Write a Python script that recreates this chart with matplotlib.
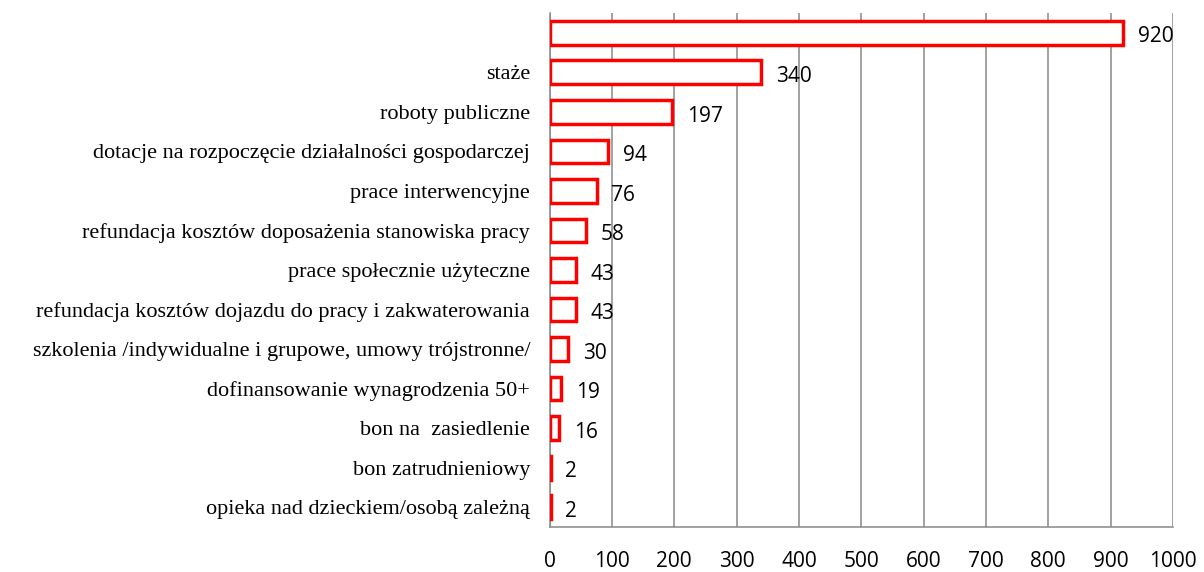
import matplotlib.pyplot as plt
import numpy as np

# kategorie (od góry)
categories = ['', 'staże', 'roboty publiczne',
              'dotacje na rozpoczęcie działalności gospodarczej',
              'prace interwencyjne',
              'refundacja kosztów doposażenia stanowiska pracy',
              'prace społecznie użyteczne',
              'refundacja kosztów dojazdu do pracy i zakwaterowania',
              'szkolenia /indywidualne i grupowe, umowy trójstronne/',
              'dofinansowanie wynagrodzenia 50+',
              'bon na  zasiedlenie',
              'bon zatrudnieniowy',
              'opieka nad dzieckiem/osobą zależną']
values = [920, 340, 197, 94, 76, 58, 43, 43, 30, 19, 16, 2, 2]
xticks = [0, 100, 200, 300, 400, 500, 600, 700, 800, 900, 1000]

fig = plt.figure(figsize=(12.04, 5.72), dpi=100)
ax = fig.add_axes([549.5 / 1204, 1 - 527 / 572, (1173 - 549.5) / 1204, (527 - 13) / 572])

y = np.arange(len(categories))
ax.barh(y, values, height=0.6, color='white', edgecolor='#ff0000', linewidth=2.5, zorder=3)
for yi, v in zip(y, values):
    ax.annotate(str(v), (v, yi), xytext=(10.5, -3), textcoords='offset points',
                va='center', ha='left', fontsize=15, family='Open Sans', zorder=4)

ax.set_ylim(len(categories) - 0.5, -0.5)
ax.set_xlim(0, 1000)
ax.set_xticks(xticks)
ax.set_xticklabels([str(t) for t in xticks], family='Open Sans', fontsize=15)
ax.set_yticks(y)
ax.set_yticklabels(categories, family='Liberation Serif', fontsize=16)
ax.tick_params(axis='x', length=0, pad=17)
ax.tick_params(axis='y', length=0, pad=14)
ax.grid(axis='x', color='#888888', linewidth=1.1, zorder=0)
for s in ['top', 'right']:
    ax.spines[s].set_visible(False)
for s in ['left', 'bottom']:
    ax.spines[s].set_color('#888888')
    ax.spines[s].set_linewidth(1.1)

fig.savefig('out.png', dpi=100)
